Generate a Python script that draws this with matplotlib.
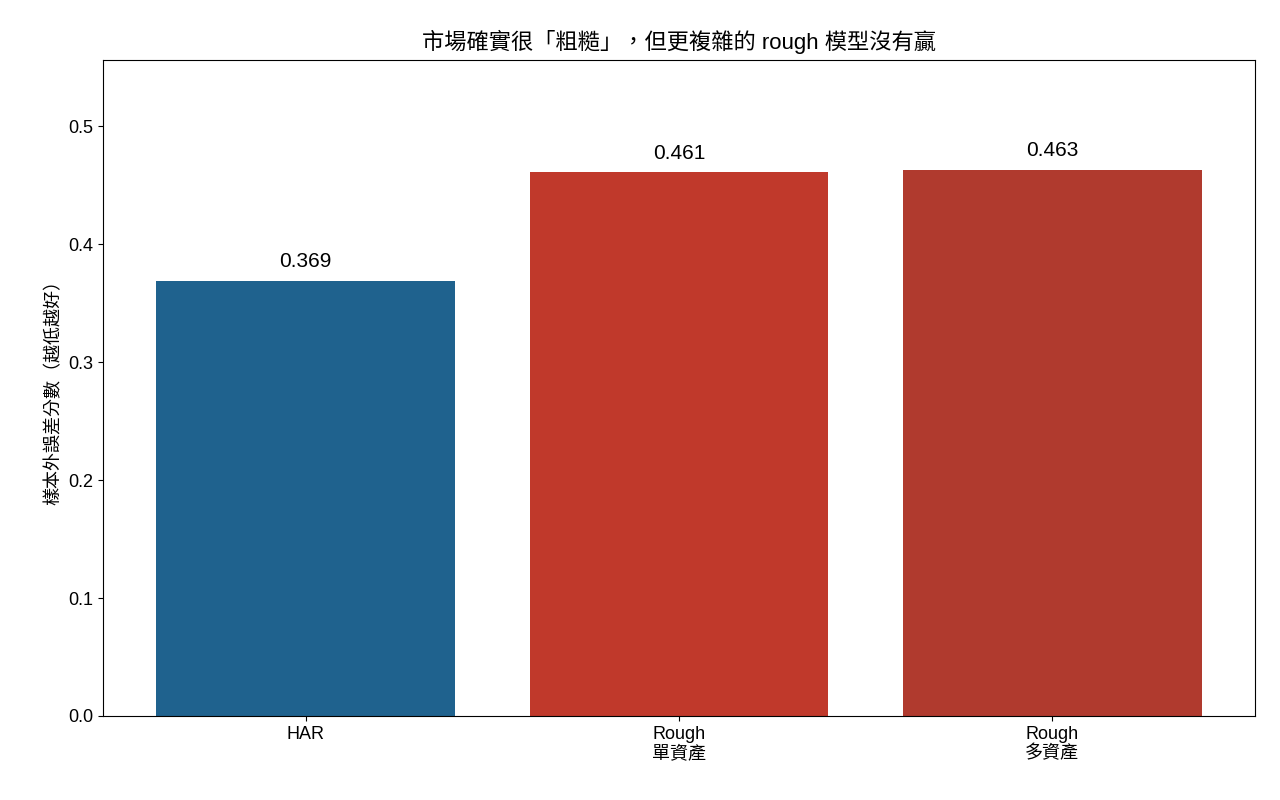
import matplotlib
matplotlib.use("Agg")
import matplotlib.pyplot as plt

plt.rcParams['font.family'] = ['Liberation Sans', 'Noto Sans CJK TC', 'DejaVu Sans']

categories = ["HAR", "Rough\n單資產", "Rough\n多資產"]
values = [0.369, 0.461, 0.463]
colors = ["#1f628e", "#c0392b", "#b03a2e"]

fig = plt.figure(figsize=(12.8, 8), dpi=100)
ax = fig.add_axes([103/1280, 1-716/800, (1255-103)/1280, (716-60)/800])
bars = ax.bar(range(len(values)), values, width=0.8, color=colors)
for i, v in enumerate(values):
    ax.text(i, v + 0.008, f"{v:.3f}", ha='center', va='bottom', fontsize=15)
ax.set_xticks(range(len(values)))
ax.set_xticklabels(categories, fontsize=13)
ax.tick_params(axis='y', labelsize=13)
ax.set_xlim(-0.543, 2.543)
ax.set_ylim(0, 0.556)
ax.set_ylabel("樣本外誤差分數（越低越好）", fontsize=13)
ax.set_title("市場確實很「粗糙」，但更複雜的 rough 模型沒有贏", fontsize=16, pad=8)
fig.savefig("out.png", dpi=100)
